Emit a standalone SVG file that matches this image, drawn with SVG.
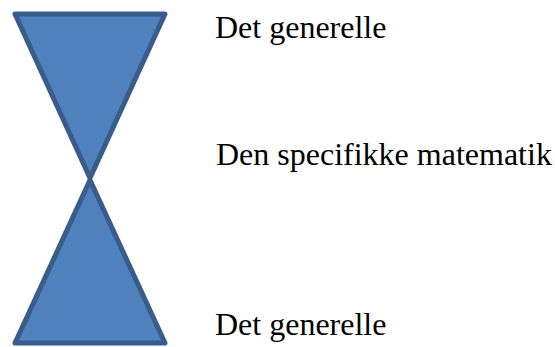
<svg xmlns="http://www.w3.org/2000/svg" width="555" height="347" viewBox="0 0 555 347">
<style>
.tri{fill:#4F81BD;stroke:#385D8A;stroke-width:5;stroke-linejoin:round}
.lbl{font-family:"Liberation Serif","Times New Roman",serif;font-size:32px;fill:#000}
</style>
<rect width="555" height="347" fill="#fff"/>
<g id="top-triangle"><polygon class="tri" points="15,14 165,14 90,178"/></g>
<g id="bottom-triangle"><polygon class="tri" points="90,180 165,343 15,343"/></g>
<g id="connectors"></g>
<g id="label-top"><text class="lbl" x="215" y="38">Det generelle</text></g>
<g id="label-middle"><text class="lbl" x="216" y="165">Den specifikke matematik</text></g>
<g id="label-bottom"><text class="lbl" x="215" y="335">Det generelle</text></g>
</svg>
